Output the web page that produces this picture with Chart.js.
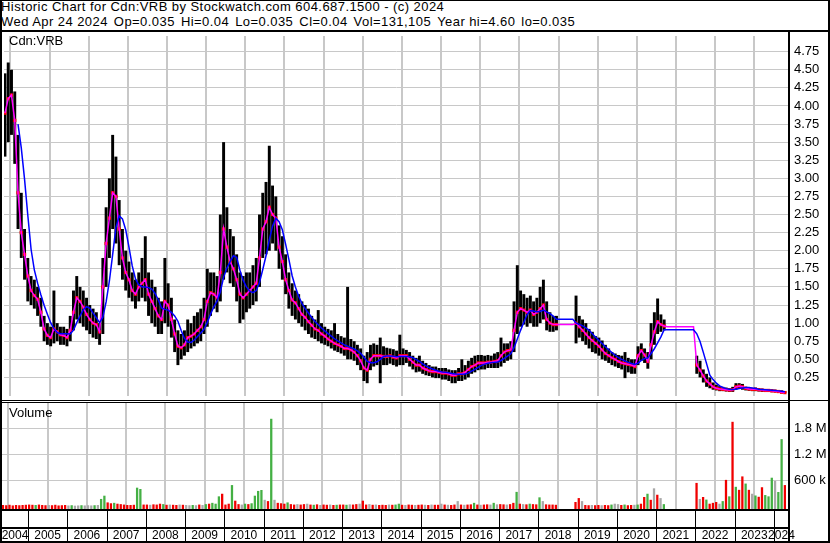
<!DOCTYPE html>
<html>
<head>
<meta charset="utf-8">
<title>Historic Chart for Cdn:VRB</title>
<script src="https://cdn.jsdelivr.net/npm/chart.js@4.4.0/dist/chart.umd.min.js"></script>
<style>
  body { margin: 0; background: #fff; font-family: "Liberation Sans", Arial, sans-serif; }
  #frame { position: relative; width: 830px; height: 543px; overflow: hidden; background: #fff; }
  .ln { position: absolute; background: #000; }
  .head { position: absolute; left: 1px; top: -1px; font-size: 13px; line-height: 15px; letter-spacing: 0.44px; white-space: pre; color: #000; }
  .head .sp { letter-spacing: -0.6px; }
  .tag { position: absolute; font-size: 13px; line-height: 15px; color: #000; }
  canvas { position: absolute; left: 0; }
</style>
</head>
<body>
<div id="frame">
  <div class="head">Historic Chart for Cdn:VRB by Stockwatch.com 604.687.1500 - (c) 2024
Wed Apr 24 2024<span class="sp">  </span>Op=0.035<span class="sp">  </span>Hi=0.04<span class="sp">  </span>Lo=0.035<span class="sp">  </span>Cl=0.04<span class="sp">  </span>Vol=131,105<span class="sp">  </span>Year hi=4.60<span class="sp">  </span>lo=0.035</div>
  <canvas id="price" width="830" height="368" style="top:32px"></canvas>
  <canvas id="volume" width="830" height="140" style="top:403px"></canvas>
  <div class="tag" style="left:9px;top:33px">Cdn:VRB</div>
  <div class="tag" style="left:9px;top:405px">Volume</div>
  <div class="ln" style="left:0;top:0;width:830px;height:1px"></div>
  <div class="ln" style="left:0;top:0;width:2px;height:543px"></div>
  <div class="ln" style="left:828px;top:0;width:2px;height:543px"></div>
  <div class="ln" style="left:0;top:30px;width:830px;height:2px"></div>
  <div class="ln" style="left:788px;top:32px;width:2px;height:511px"></div>
  <div class="ln" style="left:0;top:400px;width:830px;height:1px"></div>
  <div class="ln" style="left:0;top:402px;width:789px;height:1px"></div>
  <div class="ln" style="left:0;top:541px;width:830px;height:2px"></div>
</div>
<script>
// monthly bars, first one is May 2004
const firstMonth = 2004 + 4.35 / 12;
const xMin = 2004.338, xMax = 2024.384;

const yearTicks = [2005, 2006, 2007, 2008, 2009, 2010, 2011, 2012, 2013, 2014,
  2015, 2016, 2017, 2018, 2019, 2020, 2021, 2022, 2023, 2024];
const yearLabels = ['2004', '2005', '2006', '2007', '2008', '2009', '2010', '2011', '2012', '2013', '2014',
  '2015', '2016', '2017', '2018', '2019', '2020', '2021', '2022', '2023', '2024'];
const priceTicks = [0.25, 0.5, 0.75, 1, 1.25, 1.5, 1.75, 2, 2.25, 2.5, 2.75, 3, 3.25, 3.5, 3.75, 4, 4.25, 4.5, 4.75];
const volTicks = [600, 1200, 1800];

// monthly low / high (null = trading halted)
const lo = [
  3.3, 3.5, 3.6, 3.2, 2.3, 1.9, 1.6, 1.3,
  1.25, 1.2, 1.1, 0.95, 0.75, 0.7, 0.68, 0.72, 0.75, 0.7, 0.7, 0.68,
  0.75, 0.9, 1.05, 1.0, 0.95, 0.9, 0.85, 0.8, 0.78, 0.7, 0.85, 1.5,
  1.9, 2.3, 2.1, 1.8, 1.6, 1.45, 1.35, 1.3, 1.2, 1.3, 1.35, 1.3,
  1.1, 1.0, 0.95, 0.85, 0.85, 1.0, 0.95, 0.8, 0.6, 0.42, 0.5, 0.55,
  0.6, 0.65, 0.68, 0.72, 0.75, 0.85, 0.95, 1.1, 1.2, 1.15, 1.3, 1.6,
  1.7, 1.55, 1.5, 1.3, 1.0, 1.05, 1.15, 1.2, 1.25, 1.3, 1.5, 1.9,
  1.95, 2.0, 2.1, 2.0, 1.75, 1.6, 1.4, 1.2, 1.1, 1.05, 1.0, 0.95,
  0.9, 0.85, 0.8, 0.78, 0.75, 0.72, 0.7, 0.68, 0.65, 0.62, 0.6, 0.58,
  0.55, 0.5, 0.5, 0.48, 0.42, 0.35, 0.2, 0.17, 0.35, 0.4, 0.42, 0.17,
  0.42, 0.42, 0.44, 0.42, 0.4, 0.42, 0.42, 0.45, 0.4, 0.36, 0.32, 0.33,
  0.3, 0.28, 0.27, 0.25, 0.24, 0.24, 0.22, 0.22, 0.2, 0.17, 0.17, 0.2,
  0.2, 0.22, 0.25, 0.3, 0.32, 0.35, 0.36, 0.36, 0.38, 0.38, 0.38, 0.38,
  0.4, 0.45, 0.48, 0.5, 0.6, 0.85, 0.95, 0.98, 0.95, 1.0, 0.95, 0.95,
  1.0, 1.05, 0.9, 0.88, 0.88, 0.9, null, null, null, null, null, 0.72,
  0.8, 0.75, 0.7, 0.65, 0.6, 0.58, 0.55, 0.5, 0.48, 0.45, 0.42, 0.4,
  0.38, 0.36, 0.24, 0.32, 0.3, 0.3, 0.42, 0.48, 0.45, 0.37, 0.5, 0.7,
  0.85, 0.88, 0.9, null, null, null, null, null, null, null, null, null,
  0.3, 0.25, 0.18, 0.12, 0.1, 0.08, 0.07, 0.06, 0.06, 0.055, 0.05, 0.05,
  0.08, 0.09, 0.08, 0.07, 0.065, 0.06, 0.06, 0.055, 0.05, 0.05, 0.05, 0.045,
  0.045, 0.04, 0.035, 0.035
];
const hi = [
  4.45, 4.6, 4.5, 4.2, 3.6, 2.8, 2.3, 1.9,
  1.65, 1.6, 1.5, 1.35, 1.1, 1.0, 0.95, 1.45, 1.0, 0.95, 0.95, 0.92,
  1.1, 1.45, 1.65, 1.5, 1.45, 1.35, 1.25, 1.2, 1.15, 1.0, 1.9, 2.6,
  3.0, 3.6, 3.3, 2.7, 2.3, 2.0, 1.85, 1.7, 1.6, 1.7, 1.9, 2.2,
  1.7, 1.6, 1.5, 1.35, 1.3, 1.9, 1.55, 1.35, 1.05, 0.9, 0.85, 0.9,
  1.05, 1.0, 1.1, 1.15, 1.2, 1.35, 1.75, 1.7, 1.7, 1.65, 2.5, 3.5,
  2.6, 2.3, 2.2, 1.95, 1.7, 1.65, 1.7, 1.7, 1.8, 1.9, 2.5, 2.8,
  2.95, 3.45, 2.9, 2.75, 2.35, 2.2, 1.95, 1.7, 1.55, 1.45, 1.4, 1.3,
  1.25, 1.2, 1.1, 1.05, 1.18, 1.0, 0.95, 0.92, 0.9, 1.0, 0.85, 0.82,
  0.8, 1.5, 0.78, 0.75, 0.7, 0.65, 0.55, 0.6, 0.7, 0.72, 0.7, 0.8,
  0.68, 0.66, 0.65, 0.64, 0.62, 0.84, 0.65, 0.63, 0.6, 0.55, 0.52, 0.55,
  0.48, 0.45, 0.42, 0.4, 0.4, 0.38, 0.38, 0.38, 0.36, 0.35, 0.35, 0.38,
  0.5, 0.42, 0.48, 0.52, 0.55, 0.56, 0.56, 0.55, 0.56, 0.55, 0.58, 0.6,
  0.8, 0.72, 0.72, 0.75, 1.3, 1.8, 1.45, 1.4, 1.35, 1.38, 1.3, 1.35,
  1.5, 1.6, 1.3, 1.15, 1.1, 1.1, null, null, null, null, null, 1.38,
  1.1, 1.05, 1.0, 0.92, 0.88, 0.82, 0.8, 0.76, 0.7, 0.65, 0.6, 0.58,
  0.56, 0.55, 0.6, 0.52, 0.5, 0.5, 0.68, 0.72, 0.65, 0.6, 1.0, 1.15,
  1.34, 1.12, 1.05, null, null, null, null, null, null, null, null, null,
  0.55, 0.48, 0.36, 0.3, 0.25, 0.18, 0.15, 0.13, 0.12, 0.11, 0.1, 0.12,
  0.17, 0.17, 0.16, 0.12, 0.11, 0.1, 0.11, 0.1, 0.095, 0.09, 0.09, 0.085,
  0.08, 0.075, 0.07, 0.06
];
// short moving average (magenta), flat while halted
const avgShort = [
  3.9, 4.1, 4.15, 3.8, 2.8, 2.25, 1.95, 1.65,
  1.45, 1.38, 1.33, 1.15, 0.92, 0.83, 0.8, 0.92, 0.88, 0.84, 0.83, 0.8,
  0.9, 1.15, 1.35, 1.3, 1.22, 1.12, 1.05, 1.0, 0.98, 0.88, 1.5, 2.1,
  2.45, 2.8, 2.75, 2.3, 1.9, 1.7, 1.6, 1.45, 1.4, 1.5, 1.55, 1.6,
  1.4, 1.3, 1.2, 1.1, 1.05, 1.3, 1.25, 1.05, 0.85, 0.68, 0.66, 0.7,
  0.8, 0.82, 0.85, 0.9, 0.95, 1.05, 1.3, 1.42, 1.4, 1.35, 1.7, 2.3,
  2.05, 1.85, 1.75, 1.6, 1.4, 1.35, 1.4, 1.45, 1.5, 1.55, 1.9, 2.3,
  2.4, 2.6, 2.5, 2.45, 2.05, 1.85, 1.6, 1.45, 1.32, 1.28, 1.2, 1.12,
  1.08, 1.02, 0.97, 0.92, 0.9, 0.85, 0.82, 0.78, 0.75, 0.72, 0.7, 0.68,
  0.65, 0.65, 0.63, 0.6, 0.55, 0.48, 0.38, 0.35, 0.5, 0.55, 0.55, 0.55,
  0.54, 0.54, 0.55, 0.53, 0.52, 0.55, 0.55, 0.55, 0.5, 0.46, 0.42, 0.42,
  0.38, 0.36, 0.34, 0.33, 0.33, 0.32, 0.31, 0.31, 0.3, 0.28, 0.28, 0.3,
  0.3, 0.32, 0.36, 0.4, 0.42, 0.45, 0.45, 0.45, 0.46, 0.46, 0.47, 0.48,
  0.55, 0.6, 0.62, 0.63, 0.9, 1.15, 1.2, 1.18, 1.15, 1.18, 1.12, 1.15,
  1.2, 1.25, 1.05, 1.0, 0.98, 0.98, 0.98, 0.98, 0.98, 0.98, 0.98, 1.0,
  0.95, 0.9, 0.85, 0.8, 0.76, 0.72, 0.68, 0.63, 0.58, 0.55, 0.52, 0.5,
  0.47, 0.45, 0.44, 0.43, 0.42, 0.4, 0.55, 0.62, 0.56, 0.47, 0.7, 0.88,
  1.02, 0.98, 0.96, 0.95, 0.95, 0.95, 0.95, 0.95, 0.95, 0.95, 0.95, 0.95,
  0.42, 0.35, 0.27, 0.2, 0.16, 0.12, 0.1, 0.09, 0.085, 0.08, 0.075, 0.08,
  0.12, 0.13, 0.12, 0.1, 0.09, 0.085, 0.085, 0.08, 0.075, 0.07, 0.07, 0.065,
  0.06, 0.055, 0.045, 0.04
];
// volume, thousands of shares
const vol = [
  30, 25, 35, 20, 30, 25, 30, 35,
  40, 35, 30, 40, 30, 25, 30, 25, 35, 20, 25, 30,
  20, 25, 15, 20, 25, 20, 25, 20, 25, 30, 170, 245,
  90, 70, 80, 60, 50, 40, 30, 30, 35, 430, 400, 40,
  40, 35, 45, 40, 60, 50, 35, 40, 35, 30, 40, 35,
  30, 25, 30, 25, 40, 30, 50, 60, 80, 60, 230, 290,
  40, 60, 490, 130, 50, 40, 60, 50, 70, 245, 355, 377,
  150, 120, 2020, 150, 80, 70, 60, 90, 50, 40, 50, 40,
  50, 60, 40, 35, 45, 30, 40, 35, 40, 30, 35, 40,
  40, 35, 45, 40, 50, 60, 130, 40, 50, 35, 40, 30,
  35, 30, 40, 35, 40, 60, 35, 30, 40, 35, 30, 35,
  40, 35, 30, 40, 35, 35, 60, 40, 35, 30, 40, 120,
  40, 35, 40, 45, 80, 40, 35, 40, 45, 40, 80, 45,
  50, 45, 40, 50, 80, 333, 60, 50, 45, 60, 50, 45,
  207, 120, 45, 40, 40, 35, null, null, null, null, null, 100,
  190, 120, 30, 25, 30, 25, 30, 25, 30, 25, 40, 60,
  50, 30, 40, 25, 30, 35, 40, 60, 215, 290, 150, 415,
  267, 190, 50, null, null, null, null, null, null, null, null, null,
  540, 170, 215, 155, 60, 80, 100, 60, 120, 610, 230, 1950,
  450, 380, 690, 525, 380, 290, 250, 220, 440, 260, 230, 660,
  585, 330, 1550, 490
];
// r = down, g = up, n = unchanged
const volDir = [
  'r','r','r','r','r','r','r','r',
  'r','r','g','r','r','r','n','r','r','r','r','r',
  'n','g','n','n','g','n','n','n','g','n','g','g',
  'r','r','g','r','r','r','r','r','r','g','g','r',
  'r','n','r','r','r','g','r','n','r','r','n','r',
  'n','n','g','n','r','n','g','r','g','g','g','r',
  'r','r','g','r','r','n','g','r','g','g','g','g',
  'n','r','g','n','r','r','r','g','r','r','n','r',
  'r','n','r','g','r','n','r','r','n','r','g','r',
  'r','g','n','r','r','n','r','r','n','r','n','r',
  'r','r','n','r','g','g','r','n','r','r','n','r',
  'r','n','r','n','r','r','n','r','n','r','r','n',
  'r','n','r','r','g','r','n','r','r','n','g','n',
  'r','r','n','r','r','g','r','n','r','g','r','r',
  'g','n','r','r','r','r','n','n','n','n','n','r',
  'r','n','r','r','n','r','r','n','r','r','g','n',
  'n','r','g','r','r','n','g','r','r','g','r','n',
  'r','n','g','n','n','n','n','n','n','n','n','n',
  'r','n','r','g','r','r','r','n','g','r','g','r',
  'g','r','r','g','r','n','g','r','r','g','g','g',
  'n','g','g','r'
];
const dirColor = { r: '#f00000', g: '#44b044', n: '#a8a8a8' };

const monthX = i => firstMonth + i / 12;
const traded = lo.map(v => v !== null);

// long moving average over the last 5 traded months, held flat during halts
function trailingMean(values, n) {
  const out = [], win = [];
  let last = null;
  values.forEach((v, i) => {
    if (traded[i]) {
      win.push(v);
      if (win.length > n) win.shift();
      if (win.length === n) last = win.reduce((a, b) => a + b, 0) / n;
    }
    out.push(last);
  });
  return out;
}
const avgLong = trailingMean(avgShort, 5);

const rangeBars = [], closeDots = [], shortLine = [], longLine = [];
const volBars = [], volColors = [];
lo.forEach((v, i) => {
  const x = monthX(i);
  shortLine.push({ x, y: avgShort[i] });
  if (avgLong[i] !== null) longLine.push({ x, y: avgLong[i] });
  if (v !== null) {
    rangeBars.push({ x, y: [v, hi[i]] });
    closeDots.push({ x, y: avgShort[i] });
  }
  if (vol[i] !== null) {
    volBars.push({ x, y: vol[i] });
    volColors.push(dirColor[volDir[i]]);
  }
});

Chart.defaults.font.family = '"Liberation Sans", Arial, sans-serif';
Chart.defaults.color = '#000';
Chart.defaults.animation = false;

const gridGrey = '#c8c8c8';
const yearAxis = {
  type: 'linear', min: xMin, max: xMax, offset: false,
  grid: { color: gridGrey, lineWidth: 2, drawTicks: false },
  border: { display: false },
  ticks: { display: false },
  afterBuildTicks: s => { s.ticks = yearTicks.map(v => ({ value: v })); },
  afterFit: s => { s.height = 0; s.paddingLeft = 0; s.paddingRight = 0; }
};

new Chart(document.getElementById('price'), {
  type: 'bar',
  data: {
    datasets: [
      { type: 'line', data: longLine, borderColor: '#0000ff', borderWidth: 1.5, pointRadius: 0, tension: 0 },
      { type: 'line', data: shortLine, borderColor: '#ff00ff', borderWidth: 1.5, pointRadius: 0, tension: 0 },
      { type: 'line', data: closeDots, showLine: false, pointStyle: 'rect', pointRadius: 2.3,
        pointBackgroundColor: '#ff0000', pointBorderWidth: 0 },
      { type: 'bar', data: rangeBars, backgroundColor: '#000', barPercentage: 0.9, categoryPercentage: 1, grouped: false }
    ]
  },
  options: {
    responsive: false,
    layout: { padding: { left: 2, right: 0, top: 0, bottom: 0 } },
    plugins: { legend: { display: false }, tooltip: { enabled: false } },
    scales: {
      x: yearAxis,
      y: {
        position: 'right', min: -0.0068, max: 4.966,
        grid: { color: gridGrey, lineWidth: 1, drawTicks: false },
        border: { display: false },
        ticks: { padding: 5, font: { size: 13 }, callback: v => v.toFixed(2) },
        afterBuildTicks: s => { s.ticks = priceTicks.map(v => ({ value: v })); },
        afterFit: s => { s.width = 41; s.paddingTop = 0; s.paddingBottom = 0; }
      }
    }
  }
});

// black year dividers in the two rows under the volume panel
const yearRows = {
  id: 'yearRows',
  afterDraw(chart) {
    const { ctx, chartArea } = chart;
    const xs = chart.scales.x;
    const bottom = chartArea.bottom;
    ctx.save();
    ctx.fillStyle = '#000';
    ctx.fillRect(0, bottom, chartArea.right, 2);
    ctx.fillRect(0, bottom + 18, chartArea.right, 2);
    yearTicks.forEach(y => {
      const px = Math.round(xs.getPixelForValue(y));
      ctx.fillRect(px, bottom, 1, chart.height - bottom);
    });
    ctx.restore();
  }
};

const labelCenters = yearLabels.map(l => {
  const y = Number(l);
  return (Math.max(y, xMin) + Math.min(y + 1, xMax)) / 2;
});

new Chart(document.getElementById('volume'), {
  type: 'bar',
  data: {
    datasets: [
      { data: volBars, backgroundColor: volColors, barPercentage: 0.7, categoryPercentage: 1,
        base: -62, grouped: false, xAxisID: 'x' }
    ]
  },
  options: {
    responsive: false,
    layout: { padding: { left: 2, right: 0, top: 0, bottom: 0 } },
    plugins: { legend: { display: false }, tooltip: { enabled: false } },
    scales: {
      x: yearAxis,
      xl: {
        type: 'linear', position: 'bottom', min: xMin, max: xMax, offset: false,
        grid: { display: false, drawTicks: false },
        border: { display: false },
        ticks: { padding: 19, autoSkip: false, maxRotation: 0, font: { size: 12 },
          callback: (v, i) => yearLabels[i] },
        afterBuildTicks: s => { s.ticks = labelCenters.map(v => ({ value: v })); },
        afterFit: s => { s.height = 34; s.paddingLeft = 0; s.paddingRight = 0; }
      },
      y: {
        position: 'right', min: -62, max: 2384,
        grid: { color: gridGrey, lineWidth: 1, drawTicks: false },
        border: { display: false },
        ticks: { padding: 5, font: { size: 13 },
          callback: v => v >= 1000 ? (v / 1000).toFixed(1) + ' M' : v + ' k' },
        afterBuildTicks: s => { s.ticks = volTicks.map(v => ({ value: v })); },
        afterFit: s => { s.width = 41; s.paddingTop = 0; s.paddingBottom = 0; }
      }
    }
  },
  plugins: [yearRows]
});
</script>
</body>
</html>
